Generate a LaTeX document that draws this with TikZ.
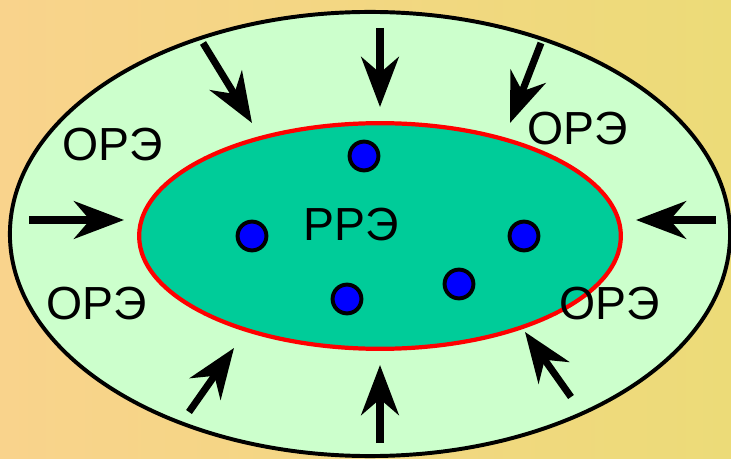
\documentclass[tikz,border=0pt]{standalone}
\usepackage{fontspec}
\setmainfont{Liberation Sans}
\usetikzlibrary{arrows.meta,positioning}
\definecolor{fonlev}{HTML}{F9D38C}
\definecolor{fonpra}{HTML}{ECDB78}
\definecolor{orezone}{HTML}{CCFFCC}
\definecolor{rrezone}{HTML}{00CC99}
\definecolor{ionblue}{HTML}{0000FF}
\tikzset{
  pritok/.style={-{Stealth[length=1.25cm,width=0.94cm,inset=0.4cm]},line width=5pt},
  ion/.style={circle,draw,line width=2.8pt,fill=ionblue,minimum size=0.72cm,inner sep=0pt},
  zona/.style={font=\fontsize{33}{36}\selectfont,inner sep=0pt}
}

\begin{document}
\begin{tikzpicture}[x=0.025cm,y=-0.025cm]
    \useasboundingbox (0,0) rectangle (731,459);
    \shade[left color=fonlev,right color=fonpra] (0,0) rectangle (731,459);
    % zones
    \draw[line width=2.8pt,fill=orezone] (370,234) ellipse [x radius=9cm,y radius=5.55cm];
    \draw[line width=3pt,red,fill=rrezone] (380,236) ellipse [x radius=6.02cm,y radius=2.82cm];
    % ions
    \node[ion] (ion1) at (364,156) {};
    \node[ion] (ion2) at (252,236) {};
    \node[ion] (ion3) at (524,236) {};
    \node[ion] (ion4) at (459,284) {};
    \node[ion] (ion5) at (347,299) {};
    % labels
    \node[zona] (rre) at (351,225) {РРЭ};
    \node[zona] (ore1) at (113,145) {ОРЭ};
    \node[zona] (ore2) at (578,129) {ОРЭ};
    \node[zona] (ore3) at (97,304) {ОРЭ};
    \node[zona] (ore4) at (610,304) {ОРЭ};
    % arrows
    \foreach \nm/\sx/\sy/\ex/\ey in {tl/203/43/252/123, t/380/28/380/107, tr/541/43/510/123,
        l/29/220/124/220, r/716/220/636/220,
        bl/189/412/234/348, b/380/443/380/365, br/571/397/525/332}{
      \coordinate (\nm-s) at (\sx,\sy);
      \coordinate (\nm-e) at (\ex,\ey);
      \draw[pritok] (\nm-s) -- (\nm-e);
    }
\end{tikzpicture}
\end{document}
